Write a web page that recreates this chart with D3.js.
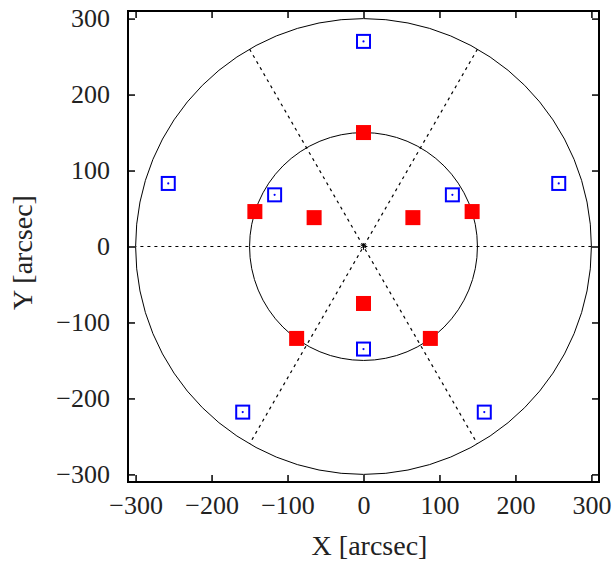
<!DOCTYPE html>
<html>
<head>
<meta charset="utf-8">
<script src="https://cdn.jsdelivr.net/npm/d3@7"></script>
<style>
  body { margin: 0; background: #fff; }
  text { font-family: "Liberation Serif", "DejaVu Serif", serif; }
</style>
</head>
<body>
<div id="chart"></div>
<script>
// data (arcsec) ***********************************************************
var redX  = [0, 143, 88, -88, -143, 65, -65, 0];
var redY  = [150, 46, -121, -121, 46, 38, 38, -75];
var blueX = [0, 257, 159, -159, -257, 117, -117, 0];
var blueY = [270, 83, -218, -218, 83, 68, 68, -135];

var circleRadii = [150, 300];
var rayAngles = [0, 60, 120];   // degrees, full diameters
var rayLength = 300;

var xTicks = [-300, -200, -100, 0, 100, 200, 300];
var yTicks = [-300, -200, -100, 0, 100, 200, 300];

// layout ******************************************************************
var width = 613, height = 562;
var margin = {left: 128, top: 11};
var w = 471, h = 471;

var x = d3.scaleLinear().domain([-310, 310]).range([0, w]);
var y = d3.scaleLinear().domain([-310, 310]).range([h, 0]);
var px = 471 / 620;

var svg = d3.select('#chart').append('svg')
  .attr('width', width)
  .attr('height', height);

var g = svg.append('g')
  .attr('transform', 'translate(' + margin.left + ',' + margin.top + ')');

// circles
g.selectAll('.ring')
  .data(circleRadii)
  .enter().append('circle')
  .attr('cx', x(0))
  .attr('cy', y(0))
  .attr('r', function(d) { return d * px; })
  .attr('fill', 'none')
  .attr('stroke', '#000')
  .attr('stroke-width', 1);

// dotted diameters
g.selectAll('.ray')
  .data(rayAngles)
  .enter().append('line')
  .attr('x1', function(d) { return x(rayLength * Math.cos(d * Math.PI / 180)); })
  .attr('y1', function(d) { return y(rayLength * Math.sin(d * Math.PI / 180)); })
  .attr('x2', function(d) { return x(-rayLength * Math.cos(d * Math.PI / 180)); })
  .attr('y2', function(d) { return y(-rayLength * Math.sin(d * Math.PI / 180)); })
  .attr('stroke', '#000')
  .attr('stroke-width', 1.2)
  .attr('stroke-dasharray', '3,4');

// centre marker
g.append('path')
  .attr('transform', 'translate(' + x(0) + ',' + y(0) + ')')
  .attr('d', d3.symbol().type(d3.symbolAsterisk || d3.symbolCross).size(30)())
  .attr('fill', 'none')
  .attr('stroke', '#000')
  .attr('stroke-width', 1);

// red filled squares
var red = d3.range(redX.length).map(function(i) { return [redX[i], redY[i]]; });
g.selectAll('.red')
  .data(red)
  .enter().append('rect')
  .attr('x', function(d) { return x(d[0]) - 7.5; })
  .attr('y', function(d) { return y(d[1]) - 7.5; })
  .attr('width', 15)
  .attr('height', 15)
  .attr('fill', '#ff0000');

// blue open squares with centre dot
var blue = d3.range(blueX.length).map(function(i) { return [blueX[i], blueY[i]]; });
var bg = g.selectAll('.blue')
  .data(blue)
  .enter().append('g')
  .attr('transform', function(d) { return 'translate(' + x(d[0]) + ',' + y(d[1]) + ')'; });
bg.append('rect')
  .attr('x', -6.5).attr('y', -6.5)
  .attr('width', 13).attr('height', 13)
  .attr('fill', 'none')
  .attr('stroke', '#0000ff')
  .attr('stroke-width', 2);
bg.append('circle')
  .attr('r', 1.1)
  .attr('fill', '#0000ff');

// axes ********************************************************************
function styleAxis(sel) {
  sel.select('.domain').remove();
  sel.selectAll('line').attr('stroke', '#000').attr('stroke-width', 1.5);
  sel.selectAll('text').attr('fill', '#222').style('font-size', '26px')
    .style('font-family', '"Liberation Serif", "DejaVu Serif", serif');
}

g.append('g')
  .attr('transform', 'translate(0,' + h + ')')
  .call(d3.axisBottom(x).tickValues(xTicks).tickSize(-7).tickPadding(14))
  .call(styleAxis);

g.append('g')
  .call(d3.axisTop(x).tickValues(xTicks).tickSize(-7).tickFormat(''))
  .call(styleAxis);

g.append('g')
  .call(d3.axisLeft(y).tickValues(yTicks).tickSize(-7).tickPadding(18))
  .call(styleAxis);

g.append('g')
  .attr('transform', 'translate(' + w + ',0)')
  .call(d3.axisRight(y).tickValues(yTicks).tickSize(-7).tickFormat(''))
  .call(styleAxis);

// frame
g.append('rect')
  .attr('width', w)
  .attr('height', h)
  .attr('fill', 'none')
  .attr('stroke', '#000')
  .attr('stroke-width', 2);

// axis titles
svg.append('text')
  .attr('x', margin.left + x(0) + 6)
  .attr('y', 555)
  .attr('text-anchor', 'middle')
  .attr('fill', '#222')
  .style('font-size', '28px')
  .text('X [arcsec]');

svg.append('text')
  .attr('transform', 'translate(32,' + (margin.top + y(0) + 6) + ') rotate(-90)')
  .attr('text-anchor', 'middle')
  .attr('fill', '#222')
  .style('font-size', '28px')
  .text('Y [arcsec]');
</script>
</body>
</html>
